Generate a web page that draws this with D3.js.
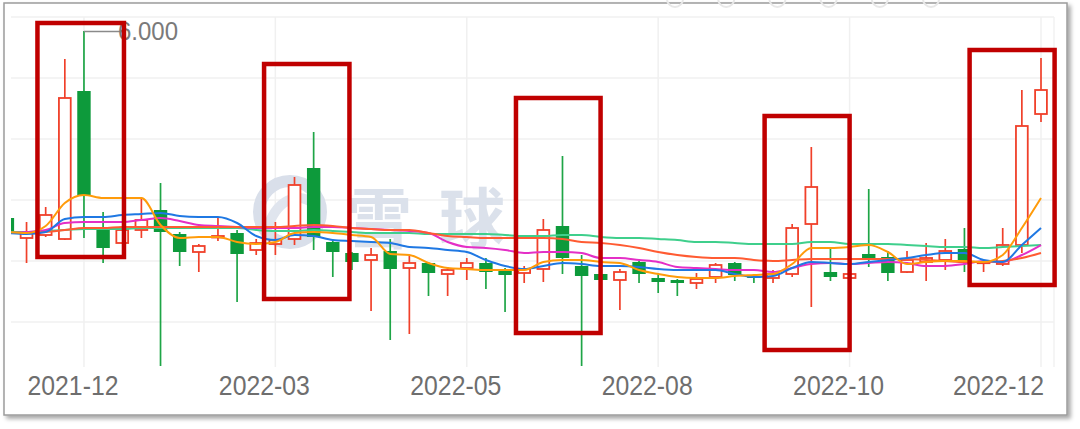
<!DOCTYPE html>
<html><head><meta charset="utf-8">
<script src="https://cdn.jsdelivr.net/npm/d3@7"></script>
<style>html,body{margin:0;padding:0;background:#fff;overflow:hidden}svg{display:block}</style>
</head><body>
<svg id="chart" width="1080" height="429"></svg>
<script>
// ---- data (weekly candles) ----
const tickIndex  = [4, 14, 24, 34, 44, 54];
const tickLabels = ["2021-12", "2022-03", "2022-05", "2022-08", "2022-10", "2022-12"];
const openVals  = [4.13,3.93,3.96,3.92,5.40,4.03,3.88,4.01,4.21,3.97, 3.79,3.935,3.98,3.81,3.87,3.92,4.63,3.89,3.78,3.71, 3.80,3.63,3.68,3.57,3.63,3.68,3.61,3.58,3.62,4.05, 3.65,3.57,3.51,3.69,3.53,3.51,3.48,3.54,3.68,3.55, 3.53,3.57,4.07,3.59,3.53,3.77,3.74,3.59,3.69,3.71, 3.82,3.68,3.67,3.86,5.17];
const closeVals = [3.98,3.98,4.16,5.33,4.36,3.83,4.01,4.11,3.99,3.79, 3.85,3.95,3.77,3.88,3.91,4.46,3.94,3.79,3.69,3.76, 3.62,3.68,3.58,3.61,3.68,3.59,3.56,3.62,4.01,3.73, 3.55,3.51,3.59,3.57,3.49,3.48,3.52,3.66,3.56,3.53, 3.57,4.03,4.44,3.54,3.57,3.71,3.58,3.71,3.73,3.80, 3.70,3.69,3.86,5.05,5.41];
const highVals  = [4.15,4.09,4.24,5.72,6.00,4.19,4.02,4.33,4.48,3.99, 3.87,4.13,4.01,3.92,4.09,4.54,4.99,3.91,3.79,3.83, 3.92,3.75,3.69,3.64,3.73,3.73,3.63,3.65,4.12,4.75, 3.76,3.58,3.62,3.70,3.57,3.52,3.58,3.68,3.69,3.56, 3.61,4.07,4.84,3.83,3.57,4.42,3.80,3.80,3.88,3.92, 4.03,3.70,4.03,5.41,5.73];
const lowVals   = [3.95,3.68,3.94,3.91,3.93,3.68,3.87,3.93,2.65,3.65, 3.59,3.90,3.29,3.76,3.76,3.86,3.81,3.54,3.61,3.20, 2.91,2.97,3.35,3.35,3.51,3.42,3.19,3.48,3.49,3.57, 2.65,3.50,3.21,3.48,3.38,3.35,3.42,3.48,3.50,3.48, 3.48,3.54,3.24,3.50,3.53,3.64,3.50,3.58,3.50,3.61, 3.59,3.59,3.65,3.78,5.09];

const ma5  = [3.99,3.98,4.05,4.28,4.36,4.33,4.33,4.33,4.06,3.93, 3.94,3.94,3.89,3.87,3.89,3.98,3.99,3.98,3.96,3.94, 3.77,3.76,3.68,3.63,3.62,3.61,3.61,3.61,3.69,3.71, 3.71,3.69,3.68,3.61,3.57,3.54,3.53,3.53,3.55,3.56, 3.57,3.67,3.83,3.83,3.84,3.86,3.79,3.67,3.69,3.70, 3.70,3.69,3.76,4.03,4.33];
const ma10 = [3.98,3.97,3.99,4.12,4.14,4.14,4.16,4.17,4.18,4.15, 4.14,4.14,4.08,3.95,3.91,3.96,3.95,3.91,3.90,3.89, 3.88,3.84,3.83,3.81,3.79,3.71,3.65,3.62,3.65,3.68, 3.67,3.65,3.65,3.64,3.62,3.61,3.61,3.61,3.57,3.54, 3.55,3.63,3.69,3.68,3.67,3.69,3.71,3.73,3.76,3.78, 3.78,3.71,3.69,3.86,4.03];
const ma20 = [3.98,3.99,4.01,4.08,4.09,4.09,4.09,4.11,4.13,4.10, 4.06,4.05,4.04,4.03,4.03,4.03,4.04,4.04,4.03,4.02, 4.01,4.00,3.98,3.89,3.84,3.83,3.81,3.78,3.79,3.79, 3.78,3.73,3.73,3.71,3.69,3.64,3.63,3.62,3.61,3.61, 3.59,3.63,3.67,3.68,3.67,3.68,3.69,3.68,3.65,3.65, 3.67,3.70,3.69,3.76,3.86];
const ma30 = [3.98,3.98,3.99,4.01,4.03,4.03,4.04,4.04,4.04,4.04, 4.04,4.04,4.04,4.04,4.04,4.05,4.06,4.05,4.03,4.02, 4.01,4.01,3.98,3.95,3.94,3.93,3.93,3.93,3.93,3.92, 3.89,3.88,3.86,3.83,3.79,3.76,3.74,3.73,3.73,3.71, 3.70,3.71,3.72,3.72,3.72,3.72,3.72,3.72,3.71,3.70, 3.69,3.69,3.70,3.73,3.78];
const ma60 = [3.99,3.99,4.00,4.01,4.02,4.02,4.02,4.03,4.03,4.03, 4.03,4.03,4.03,4.01,4.00,4.00,4.01,4.00,3.99,3.98, 3.98,3.98,3.97,3.97,3.97,3.97,3.96,3.95,3.95,3.96, 3.96,3.94,3.93,3.93,3.92,3.91,3.89,3.89,3.88,3.87, 3.87,3.87,3.89,3.89,3.87,3.87,3.87,3.86,3.85,3.84, 3.84,3.83,3.84,3.85,3.86];

const gridValues = [6.14, 5.53, 4.92, 4.31, 3.70, 3.09];
const maxLabel = "6.000";

// highlighted regions (candle index range, price range)
const hlStart  = [1.57, 13.41, 26.57, 39.56, 50.27];
const hlEnd    = [6.09, 17.87, 30.99, 44.00, 54.71];
const hlTop    = [6.08, 5.67, 5.33, 5.15, 5.81];
const hlBottom = [3.74, 3.32, 2.98, 2.81, 3.46];

// ---- layout ----
const svg = d3.select("#chart");
const plot = {left: 11, right: 1054, top: 17, bottom: 367};
const x = d3.scaleLinear().domain([0, 54]).range([7.4, 1041]);
const y = d3.scaleLinear().domain([2.64, 6.14]).range([367, 17]);
const bodyW = 13.4;
const RED = "#f0402a", GREEN = "#0d9a3b";

// frame with shadow
const defs = svg.append("defs");
const f = defs.append("filter").attr("id","sh").attr("x","-5%").attr("y","-5%").attr("width","110%").attr("height","115%");
f.append("feDropShadow").attr("dx",3).attr("dy",3).attr("stdDeviation",2).attr("flood-color","#000").attr("flood-opacity",0.35);
defs.append("clipPath").attr("id","clip").append("rect")
  .attr("x", plot.left).attr("y", 0).attr("width", plot.right - plot.left).attr("height", plot.bottom);

svg.append("rect").attr("x",4).attr("y",3).attr("width",1063).attr("height",412)
  .attr("fill","#fff").attr("stroke","#9c9c9c").attr("stroke-width",1.5).attr("filter","url(#sh)");

// faint toolbar circles at top edge
svg.append("g").selectAll("circle").data(d3.range(6)).join("circle")
  .attr("cx", d => 675 + d * 51.2).attr("cy", -1).attr("r", 8)
  .attr("fill","none").attr("stroke","#e8e8e8").attr("stroke-width",2);

// grid
const grid = svg.append("g");
grid.selectAll("line.h").data(gridValues).join("line").attr("class","h")
  .attr("x1", plot.left).attr("x2", plot.right)
  .attr("y1", d => y(d)).attr("y2", d => y(d))
  .attr("stroke","#f0f0f0").attr("stroke-width",1.5);
grid.selectAll("line.v").data(tickIndex).join("line").attr("class","v")
  .attr("x1", d => x(d)).attr("x2", d => x(d))
  .attr("y1", plot.top).attr("y2", plot.bottom)
  .attr("stroke","#f0f0f0").attr("stroke-width",1.5);
grid.append("line").attr("x1",plot.right).attr("x2",plot.right).attr("y1",plot.top).attr("y2",plot.bottom)
  .attr("stroke","#f2f2f2").attr("stroke-width",1.5);

// watermark
const wm = svg.append("g").attr("fill","none").attr("stroke","#d9dfea");
wm.append("circle").attr("cx",290).attr("cy",212).attr("r",31).attr("stroke-width",12);
wm.append("path").attr("d","M268,226 C280,194 302,194 314,204").attr("stroke-width",10).attr("stroke","#e0e5ee");
svg.append("text").attr("x",346).attr("y",243).text("雪球")
  .attr("font-family","'Noto Sans CJK SC'").attr("font-weight",700).attr("font-size",66).attr("letter-spacing",27)
  .attr("fill","#dbe1eb");

// candles
const idx = d3.range(openVals.length);
const cg = svg.append("g").attr("clip-path","url(#clip)");
idx.forEach(i => {
  const o = openVals[i], c = closeVals[i], h = highVals[i], l = lowVals[i];
  const up = c >= o;
  const col = up ? RED : GREEN;
  const cx = x(i);
  const top = y(Math.max(o, c)), bot = y(Math.min(o, c));
  const bh = Math.max(bot - top, 1.2);
  if (up) {
    cg.append("line").attr("x1",cx).attr("x2",cx).attr("y1",y(h)).attr("y2",top)
      .attr("stroke",col).attr("stroke-width",1.7);
    cg.append("line").attr("x1",cx).attr("x2",cx).attr("y1",top + bh).attr("y2",y(l))
      .attr("stroke",col).attr("stroke-width",1.7);
    cg.append("rect").attr("x",cx - bodyW/2 + 0.8).attr("y",top).attr("width",bodyW - 1.6).attr("height",bh)
      .attr("fill","#fff").attr("stroke",col).attr("stroke-width",1.8);
  } else {
    cg.append("line").attr("x1",cx).attr("x2",cx).attr("y1",y(h)).attr("y2",y(l))
      .attr("stroke","#1ea546").attr("stroke-width",1.7);
    cg.append("rect").attr("x",cx - bodyW/2).attr("y",top).attr("width",bodyW).attr("height",bh)
      .attr("fill",col);
  }
});

// moving averages
const series = [
  {v: ma60, c: "#3fcf8c"},
  {v: ma20, c: "#e42fc6"},
  {v: ma30, c: "#ff5b32"},
  {v: ma10, c: "#1f78e3"},
  {v: ma5,  c: "#ff9b0a"}
];
const line = d3.line().x((d,i) => x(i)).y(d => y(d)).curve(d3.curveMonotoneX);
series.forEach(s => {
  cg.append("path").attr("d", line(s.v)).attr("fill","none")
    .attr("stroke", s.c).attr("stroke-width", 2);
});

// max label
const maxI = d3.maxIndex(highVals);
const mx = x(maxI), my = y(highVals[maxI]);
svg.append("line").attr("x1",mx).attr("x2",mx + 38).attr("y1",my + 0.5).attr("y2",my + 0.5)
  .attr("stroke","#8a8a8a").attr("stroke-width",1.5);
svg.append("g").attr("transform",`translate(${mx + 34},${my + 9}) scale(1,1.09)`)
  .append("text").text(maxLabel)
  .attr("font-family","'Liberation Sans', Arial, sans-serif").attr("font-size",24).attr("fill","#7a7a7a");

// x labels
const lg = svg.append("g");
tickIndex.forEach((ti, k) => {
  const g = lg.append("g");
  const t = g.append("text").text(tickLabels[k])
    .attr("font-family","'Liberation Sans', Arial, sans-serif").attr("font-size",24.8)
    .attr("fill","#6e6e6e").attr("text-anchor","middle");
  const w = t.node().getComputedTextLength();
  let cxl = x(ti) - 11;
  if (cxl + w/2 > 1044) cxl = 1044 - w/2;
  g.attr("transform",`translate(${cxl},395) scale(1,1.09)`);
});

// highlight boxes
svg.append("g").selectAll("rect").data(d3.range(hlStart.length)).join("rect")
  .attr("x", k => x(hlStart[k])).attr("y", k => y(hlTop[k]))
  .attr("width", k => x(hlEnd[k]) - x(hlStart[k]))
  .attr("height", k => y(hlBottom[k]) - y(hlTop[k]))
  .attr("fill","none").attr("stroke","#c00000").attr("stroke-width",4.5);
</script>
</body></html>
